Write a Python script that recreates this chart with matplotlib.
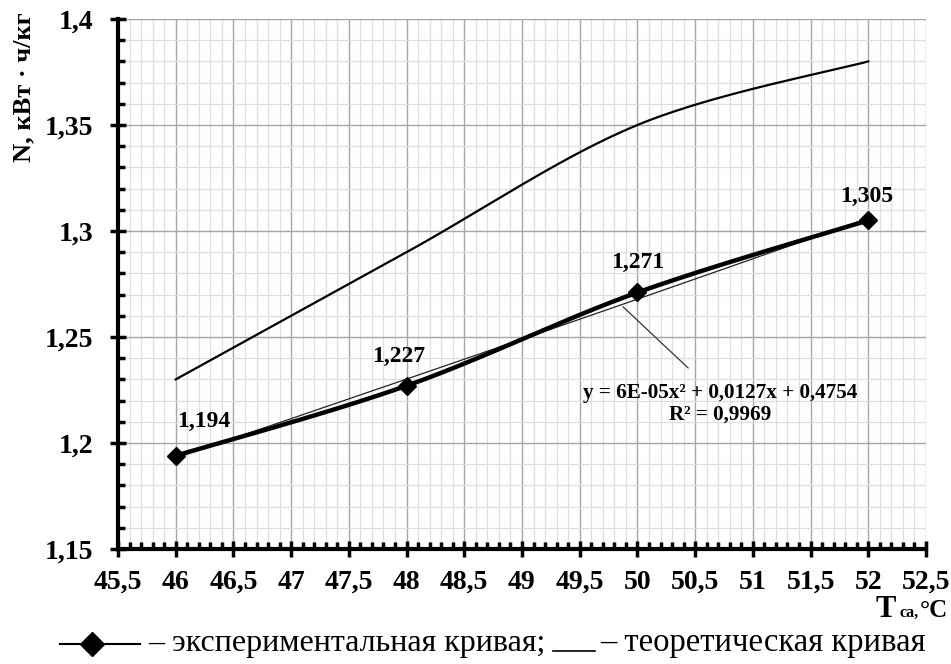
import numpy as np
import matplotlib
matplotlib.use("Agg")
from matplotlib import pyplot as plt
from matplotlib.ticker import MultipleLocator, FuncFormatter
from matplotlib.lines import Line2D

plt.rcParams['font.family'] = ['Liberation Serif', 'DejaVu Serif']

# temperature of the exhaust air, deg C
t_points = [46, 48, 50, 52]
n_exp = [1.194, 1.227, 1.271, 1.305]
n_theory = [1.23, 1.29, 1.35, 1.38]

x_ticks = [45.5, 46, 46.5, 47, 47.5, 48, 48.5, 49, 49.5, 50, 50.5, 51, 51.5, 52, 52.5]
y_ticks = [1.15, 1.2, 1.25, 1.3, 1.35, 1.4]


def smooth(xs, ys, n=60):
    # excel-like smoothed line: cubic bezier segments with catmull-rom control points
    xs = np.asarray(xs, float)
    ys = np.asarray(ys, float)
    px = np.concatenate([[xs[0]], xs, [xs[-1]]])
    py = np.concatenate([[ys[0]], ys, [ys[-1]]])
    out_x, out_y = [], []
    t = np.linspace(0, 1, n)
    for i in range(1, len(px) - 2):
        p0 = np.array([px[i], py[i]])
        p3 = np.array([px[i + 1], py[i + 1]])
        c1 = p0 + (np.array([px[i + 1], py[i + 1]]) - np.array([px[i - 1], py[i - 1]])) / 6
        c2 = p3 - (np.array([px[i + 2], py[i + 2]]) - np.array([px[i], py[i]])) / 6
        b = ((1 - t) ** 3)[:, None] * p0 + (3 * (1 - t) ** 2 * t)[:, None] * c1 \
            + (3 * (1 - t) * t ** 2)[:, None] * c2 + (t ** 3)[:, None] * p3
        out_x.extend(b[:, 0])
        out_y.extend(b[:, 1])
    return np.array(out_x), np.array(out_y)


def comma(v, pos=None):
    return ('%g' % v).replace('.', ',')


fig = plt.figure(figsize=(9.51, 6.64), dpi=100)
ax = fig.add_axes([118 / 951, 1 - 549 / 664, 808 / 951, 530 / 664])

ax.set_xlim(x_ticks[0], x_ticks[-1])
ax.set_ylim(y_ticks[0], y_ticks[-1])
ax.set_xticks(x_ticks)
ax.set_yticks(y_ticks)
ax.xaxis.set_minor_locator(MultipleLocator(0.1))
ax.yaxis.set_minor_locator(MultipleLocator(0.01))
ax.xaxis.set_major_formatter(FuncFormatter(comma))
ax.yaxis.set_major_formatter(FuncFormatter(comma))

ax.grid(which='major', color='#a6a6a6', lw=1.0)
ax.grid(which='minor', color='#dedede', lw=0.9)
ax.set_axisbelow(True)

for s in ['top', 'right']:
    ax.spines[s].set_visible(False)
for s in ['left', 'bottom']:
    ax.spines[s].set_linewidth(3)
    ax.spines[s].set_zorder(5)

ax.tick_params(which='major', direction='inout', length=12, width=2.5,
               labelsize=20)
ax.tick_params(axis='x', which='major', pad=9)
ax.tick_params(axis='y', which='major', pad=12)
ax.tick_params(which='minor', direction='in', length=5, width=2.5)
for lab in ax.get_xticklabels() + ax.get_yticklabels():
    lab.set_fontweight('bold')

# theoretical curve
tx, ty = smooth(t_points, n_theory)
ax.plot(tx, ty, color='black', lw=1.6, zorder=3)

# polynomial trendline of the experimental points
coef = np.polyfit(t_points, n_exp, 2)
xf = np.linspace(t_points[0], t_points[-1], 200)
ax.plot(xf, np.polyval(coef, xf), color='#222222', lw=0.9, zorder=3)

# experimental curve
ex, ey = smooth(t_points, n_exp)
ax.plot(ex, ey, color='black', lw=3.2, zorder=4)
ax.plot(t_points, n_exp, ls='none', marker='D', ms=9, color='black', zorder=6)

offsets = [(28, 34), (-8, 29), (0, 30), (-2, 24)]
for x, v, off in zip(t_points, n_exp, offsets):
    ax.annotate(comma(v), (x, v), xytext=off, textcoords='offset pixels',
                ha='center', va='center', fontsize=17, fontweight='bold')

# trendline equation with leader line
ax.plot([49.876, 50.439], [1.2642, 1.2354], color='#333333', lw=0.9, zorder=3)
ax.text(50.717, 1.2185, 'y = 6E-05x² + 0,0127x + 0,4754\nR² = 0,9969',
        ha='center', va='center', fontsize=15.2, fontweight='bold',
        linespacing=1.1, zorder=7)

# axis titles
fig.text(24 / 951, 1 - 87 / 664, 'N, кВт · ч/кг', rotation=90, ha='center',
         va='center', fontsize=19, fontweight='bold')
yt = 1 - 617 / 664
fig.text(876 / 951, yt, 'T', ha='left', va='baseline',
         fontsize=22, fontweight='bold')
fig.text(900 / 951, yt, 'ca,', ha='left', va='baseline',
         fontsize=11.5, fontweight='bold')
fig.text(948 / 951, yt, '°C', ha='right', va='baseline',
         fontsize=18, fontweight='bold')

# legend line under the chart
yl = 1 - 644 / 664
fig.add_artist(Line2D([60 / 951, 140 / 951], [yl, yl], color='black', lw=1.5))
fig.add_artist(Line2D([92 / 951], [yl], marker='D', ms=12, color='black'))
yb = 1 - 651 / 664
fig.text(148 / 951, yb, '– экспериментальная кривая;', ha='left',
         va='baseline', fontsize=23)
fig.add_artist(Line2D([553 / 951, 595 / 951], [yb, yb], color='black', lw=1.2))
fig.text(600 / 951, yb, '– теоретическая кривая', ha='left',
         va='baseline', fontsize=23.5)

fig.savefig('out.png', dpi=100)
